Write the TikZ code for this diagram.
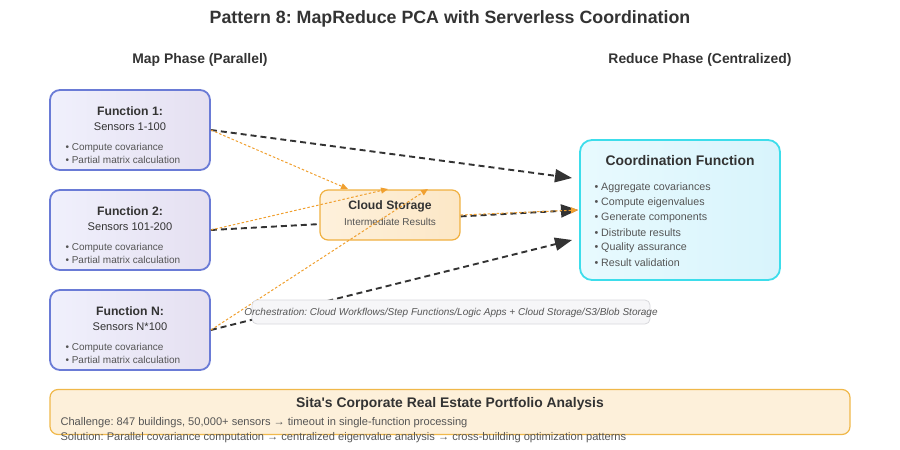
\documentclass[tikz,border=0pt]{standalone}
\usepackage{fontspec}
\setmainfont{Liberation Sans}
\usetikzlibrary{arrows.meta}
\frenchspacing

\definecolor{txtdark}{HTML}{333333}
\definecolor{txtgray}{HTML}{555555}
\definecolor{funcborder}{HTML}{6A7BD6}
\definecolor{funcfilla}{HTML}{F0F0FC}
\definecolor{funcfillb}{HTML}{E5E0F1}
\definecolor{storeborder}{HTML}{F0B040}
\definecolor{storefilla}{HTML}{FEF1DC}
\definecolor{storefillb}{HTML}{FCE7C6}
\definecolor{coordborder}{HTML}{3DDDEB}
\definecolor{coordfilla}{HTML}{E8FAFE}
\definecolor{coordfillb}{HTML}{D8F4FC}
\definecolor{orchborder}{HTML}{D8D8DC}
\definecolor{orchfill}{HTML}{F6F6F8}
\definecolor{caseborder}{HTML}{F0B84A}
\definecolor{casefill}{HTML}{FDF0DA}
\definecolor{flowline}{HTML}{333333}
\definecolor{storeline}{HTML}{F0A030}

\newcommand{\px}[1]{\fontsize{#1}{#1}\selectfont}

\begin{document}
\begin{tikzpicture}[x=1pt, y=-1pt, text=txtdark,
    func node/.style={rectangle, rounded corners=10pt, draw=funcborder, line width=1.8pt, left color=funcfilla, right color=funcfillb, minimum width=160pt, minimum height=80pt},
    store node/.style={rectangle, rounded corners=8pt, draw=storeborder, line width=1.2pt, left color=storefilla, right color=storefillb, minimum width=140pt, minimum height=50pt},
    coord node/.style={rectangle, rounded corners=12pt, draw=coordborder, line width=1.8pt, left color=coordfilla, right color=coordfillb, minimum width=200pt, minimum height=140pt},
    orch node/.style={rectangle, rounded corners=5pt, draw=orchborder, line width=.8pt, fill=orchfill, minimum width=398pt, minimum height=24pt},
    case node/.style={rectangle, rounded corners=8pt, draw=caseborder, line width=1.2pt, fill=casefill, minimum width=800pt, minimum height=45pt},
    head/.style={font=\bfseries\px{12.2}},
    sub/.style={font=\px{11.1}},
    item/.style={anchor=west, text=txtgray, font=\px{10}},
    citem/.style={anchor=west, text=txtgray, font=\px{10.7}},
    flow/.style={draw=flowline, line width=1.9pt, dash pattern=on 6pt off 4pt, -{Triangle[length=17pt,width=13pt]}},
    save/.style={draw=storeline, line width=1pt, dash pattern=on 2.5pt off 2pt, -{Triangle[length=7pt,width=6pt]}}]
\useasboundingbox (0,0) rectangle (900,450);

% headings
\node[font=\bfseries\px{17.8}] (title) at (450,19) {Pattern 8: MapReduce PCA with Serverless Coordination};
\node[font=\bfseries\px{13.9}] (map) at (200,60) {Map Phase (Parallel)};
\node[font=\bfseries\px{13.9}] (reduce) at (700,60) {Reduce Phase (Centralized)};

% map functions
\node[func node] (f1) at (130,130) {};
\node[func node] (f2) at (130,230) {};
\node[func node] (fn) at (130,330) {};

% reduce side
\node[coord node] (coord) at (680,210) {};
\coordinate (c1) at (572,178);
\coordinate (c2) at (578,210);
\coordinate (c3) at (572,240);

% map -> reduce (behind the storage box)
\draw[flow] (f1.east) -- (c1);
\draw[flow] (f2.east) -- (c2);
\draw[flow] (fn.east) -- (c3);

% storage
\node[store node] (store) at (390,215) {};
\node[font=\bfseries\px{12.2}] (storet) at (390,206) {Cloud Storage};
\node[text=txtgray, font=\px{10}] (stores) at (390,222) {Intermediate Results};

% writes to storage
\draw[save] (f1.east) -- (348,189);
\draw[save] (f2.east) -- (388,189);
\draw[save] (fn.east) -- (428,189);
\draw[save] (store.east) -- (c2);

% function texts
\node[head] (f1t) at (130,111) {Function 1:};
\node[sub] (f1s) at (130,127) {Sensors 1-100};
\node[item] at (62,148) {• Compute covariance};
\node[item] at (62,160) {• Partial matrix calculation};

\node[head] (f2t) at (130,211) {Function 2:};
\node[sub] (f2s) at (130,227) {Sensors 101-200};
\node[item] at (62,248) {• Compute covariance};
\node[item] at (62,260) {• Partial matrix calculation};

\node[head] (fnt) at (130,311) {Function N:};
\node[sub] (fns) at (130,327) {Sensors N*100};
\node[item] at (62,348) {• Compute covariance};
\node[item] at (62,360) {• Partial matrix calculation};

% coordination texts
\node[font=\bfseries\px{13.9}] (coordt) at (680,161) {Coordination Function};
\node[citem] at (591,187.5) {• Aggregate covariances};
\node[citem] at (591,202.5) {• Compute eigenvalues};
\node[citem] at (591,217.5) {• Generate components};
\node[citem] at (591,232.5) {• Distribute results};
\node[citem] at (591,247.5) {• Quality assurance};
\node[citem] at (591,262.5) {• Result validation};

% orchestration note (covers the lines)
\node[orch node] (orch) at (451,312) {};
\node[text=txtgray, font=\itshape\px{10}] (orcht) at (451,312.5) {Orchestration: Cloud Workflows/Step Functions/Logic Apps + Cloud Storage/S3/Blob Storage};

% use case
\node[case node] (case) at (450,412) {};
\node[font=\bfseries\px{13.9}] (caset) at (450,404) {Sita\textquotesingle s Corporate Real Estate Portfolio Analysis};
\node[text=txtgray, font=\px{11.1}, anchor=west] (challenge) at (57,422.5) {Challenge: 847 buildings, 50,000+ sensors → timeout in single-function processing};
\node[text=txtgray, font=\px{11.1}, anchor=west] (solution) at (57,437.5) {Solution: Parallel covariance computation → centralized eigenvalue analysis → cross-building optimization patterns};
\end{tikzpicture}
\end{document}
